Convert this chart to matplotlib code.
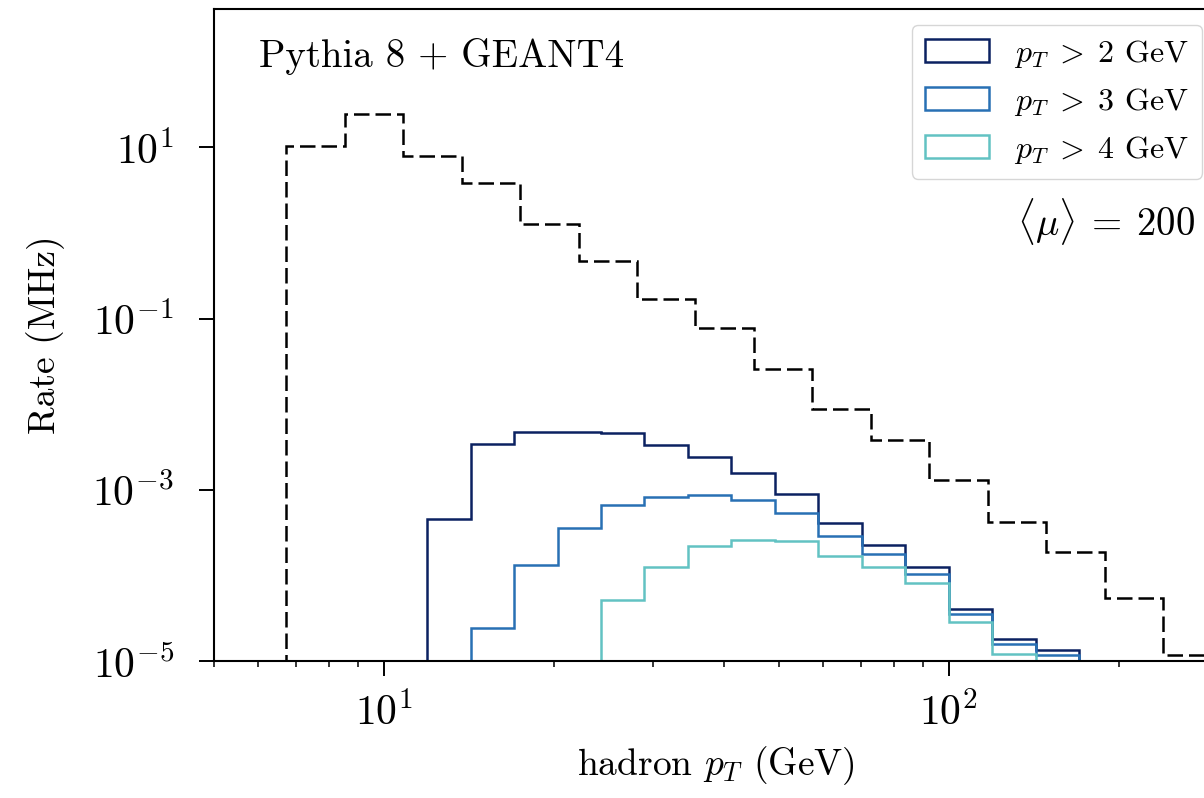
import numpy as np
import matplotlib
matplotlib.use("Agg")
import matplotlib.pyplot as plt
from matplotlib.ticker import FixedLocator, LogFormatterSciNotation, NullFormatter, NullLocator

plt.rcParams["font.family"] = "serif"
plt.rcParams["font.serif"] = ["cmr10"]
plt.rcParams["mathtext.fontset"] = "cm"
plt.rcParams["axes.formatter.use_mathtext"] = True

# binning of the total hadron spectrum (dashed)
edges_all = [6.72, 8.53, 10.83, 13.74, 17.43, 22.12, 28.07, 35.62, 45.20, 57.36,
             72.79, 92.37, 117.2, 148.7, 188.7, 239.5, 303.9]
rate_all = [10.3, 24.3, 7.85, 3.80, 1.27, 0.466, 0.168, 0.0776, 0.0261, 0.00883,
            0.00382, 0.00129, 4.19e-4, 1.89e-4, 5.46e-5, 1.16e-5]

# binning of the selected hadrons
edges_sel = [11.94, 14.25, 17.01, 20.31, 24.24, 28.94, 34.55, 41.25, 49.24, 58.78,
             70.17, 83.77, 100.0, 119.4, 142.5, 170.1]
rate_pt2 = [4.58e-4, 3.40e-3, 4.80e-3, 4.72e-3, 4.60e-3, 3.33e-3, 2.42e-3, 1.56e-3,
            8.89e-4, 4.08e-4, 2.26e-4, 1.24e-4, 4.09e-5, 1.80e-5, 1.36e-5]
rate_pt3 = [0, 2.41e-5, 1.32e-4, 3.57e-4, 6.61e-4, 8.20e-4, 8.80e-4, 7.62e-4,
            5.33e-4, 2.90e-4, 1.77e-4, 1.04e-4, 3.55e-5, 1.56e-5, 1.18e-5]
rate_pt4 = [0, 0, 0, 0, 5.21e-5, 1.25e-4, 2.18e-4, 2.59e-4,
            2.49e-4, 1.67e-4, 1.24e-4, 8.07e-5, 2.83e-5, 1.22e-5, 0]

labels = [r"$p_T\;>\;2$ GeV", r"$p_T\;>\;3$ GeV", r"$p_T\;>\;4$ GeV"]
colors = ["#0b2161", "#2870b4", "#62c2c3"]

fig = plt.figure(figsize=(12.04, 7.98), dpi=100)
ax = fig.add_axes([213.5 / 1204, 1 - 661 / 798, 1005 / 1204, (661 - 8.5) / 798])

ea = np.array(edges_all)
ca = np.sqrt(ea[:-1] * ea[1:])
ax.hist(ca, bins=ea, weights=rate_all, histtype="step", color="black",
        linewidth=1.8, linestyle=(0, (6.2, 2.4)))

es = np.array(edges_sel)
cs = np.sqrt(es[:-1] * es[1:])
for r, lab, c in zip([rate_pt2, rate_pt3, rate_pt4], labels, colors):
    ax.hist(cs, bins=es, weights=r, histtype="step", color=c, linewidth=1.8, label=lab)

ax.set_xscale("log")
ax.set_yscale("log")
ax.set_xlim(5, 300)
ax.set_ylim(1e-5, 4.2e2)

ax.yaxis.set_major_locator(FixedLocator([1e-5, 1e-3, 1e-1, 1e1]))
ax.yaxis.set_major_formatter(LogFormatterSciNotation())
ax.yaxis.set_minor_locator(NullLocator())
ax.xaxis.set_minor_formatter(NullFormatter())

ax.tick_params(which="major", length=10.5, width=1.4, labelsize=30)
ax.tick_params(axis="y", which="major", pad=18)
ax.tick_params(axis="x", which="major", pad=12)
ax.tick_params(which="minor", length=4.5, width=1.1)
for s in ax.spines.values():
    s.set_linewidth(1.5)

ax.set_xlabel(r"hadron $p_T$ (GeV)", fontsize=27, labelpad=8)
ax.set_ylabel("Rate (MHz)", fontsize=27, labelpad=20)

ax.text(0.045, 0.955, "Pythia 8 + GEANT4", transform=ax.transAxes, fontsize=28,
        ha="left", va="top")
ax.text(1195 / 1204, 1 - 222 / 798, r"$\langle\mu\rangle\:=\:200$", transform=fig.transFigure,
        fontsize=28, ha="right", va="center")

ax.legend(loc="upper right", bbox_to_anchor=(1202 / 1204, 1 - 25 / 798),
          bbox_transform=fig.transFigure, borderaxespad=0, fontsize=23)

fig.savefig("out.png", dpi=100)
